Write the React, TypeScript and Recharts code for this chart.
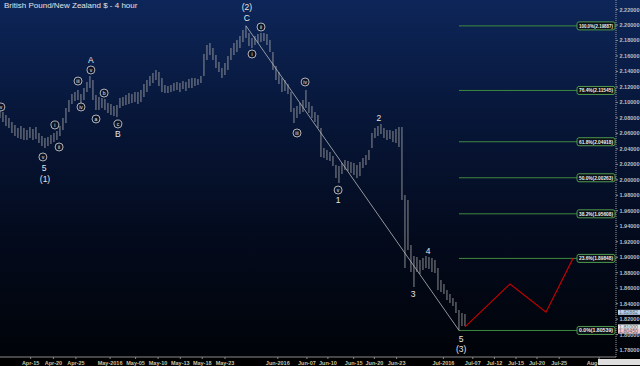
import React from 'react';
import { ComposedChart, Bar, Line, Scatter, XAxis, YAxis, ReferenceLine, ReferenceDot } from 'recharts';

// 4h bars, one entry every ~2.4 bars (high / low)
const highs = [
  2.0928, 2.0876, 2.0837, 2.0798, 2.0747, 2.0708, 2.0669, 2.0695, 2.0669, 2.0643,
  2.0682, 2.0656, 2.0682, 2.0605, 2.0566, 2.0540, 2.0553, 2.0579, 2.0605, 2.0630,
  2.0695, 2.0798, 2.0928, 2.1031, 2.1108, 2.1134, 2.1160, 2.1108, 2.1186, 2.1264,
  2.1341, 2.1289, 2.1096, 2.1070, 2.1057, 2.1044, 2.0992, 2.0979, 2.0954, 2.0966,
  2.1057, 2.1070, 2.1096, 2.1121, 2.1108, 2.1134, 2.1134, 2.1160, 2.1238, 2.1289,
  2.1341, 2.1380, 2.1419, 2.1393, 2.1315, 2.1225, 2.1212, 2.1225, 2.1251, 2.1264,
  2.1251, 2.1276, 2.1264, 2.1302, 2.1315, 2.1315, 2.1302, 2.1341, 2.1625, 2.1742,
  2.1767, 2.1703, 2.1612, 2.1522, 2.1444, 2.1509, 2.1599, 2.1703, 2.1767, 2.1806,
  2.1858, 2.1935, 2.1989, 2.1897, 2.1832, 2.1858, 2.1884, 2.1897, 2.1897, 2.1884,
  2.1806, 2.1651, 2.1470, 2.1393, 2.1315, 2.1289, 2.1238, 2.1134, 2.0928, 2.0954,
  2.0992, 2.1031, 2.1160, 2.1005, 2.0954, 2.0876, 2.0837, 2.0669, 2.0411, 2.0385,
  2.0359, 2.0307, 2.0191, 2.0178, 2.0217, 2.0256, 2.0243, 2.0230, 2.0217, 2.0191,
  2.0230, 2.0282, 2.0320, 2.0385, 2.0605, 2.0669, 2.0695, 2.0721, 2.0669, 2.0643,
  2.0643, 2.0630, 2.0656, 2.0682, 2.0682, 1.9804, 1.9739, 1.9158, 1.9016, 1.9003,
  1.8964, 1.8990, 1.9016, 1.9003, 1.8990, 1.8964, 1.8860, 1.8705, 1.8654, 1.8576,
  1.8525, 1.8473, 1.8421, 1.8318, 1.8279, 1.8266,
];
const lows = [
  2.0798, 2.0747, 2.0695, 2.0669, 2.0605, 2.0566, 2.0540, 2.0527, 2.0514, 2.0514,
  2.0540, 2.0514, 2.0527, 2.0475, 2.0437, 2.0411, 2.0437, 2.0462, 2.0488, 2.0514,
  2.0566, 2.0643, 2.0734, 2.0876, 2.0979, 2.1018, 2.1031, 2.0979, 2.1031, 2.1134,
  2.1186, 2.1031, 2.0902, 2.0902, 2.0928, 2.0902, 2.0863, 2.0837, 2.0824, 2.0811,
  2.0928, 2.0954, 2.0966, 2.0979, 2.0992, 2.1005, 2.0979, 2.1005, 2.1070, 2.1134,
  2.1212, 2.1251, 2.1289, 2.1212, 2.1134, 2.1121, 2.1121, 2.1134, 2.1147, 2.1160,
  2.1134, 2.1173, 2.1147, 2.1186, 2.1186, 2.1212, 2.1225, 2.1251, 2.1341, 2.1548,
  2.1612, 2.1548, 2.1444, 2.1393, 2.1315, 2.1354, 2.1419, 2.1548, 2.1612, 2.1651,
  2.1703, 2.1780, 2.1832, 2.1729, 2.1703, 2.1742, 2.1767, 2.1780, 2.1793, 2.1742,
  2.1651, 2.1419, 2.1289, 2.1238, 2.1134, 2.1147, 2.1108, 2.0876, 2.0734, 2.0798,
  2.0850, 2.0876, 2.0928, 2.0863, 2.0798, 2.0747, 2.0669, 2.0295, 2.0282, 2.0256,
  2.0243, 2.0178, 2.0023, 1.9959, 2.0075, 2.0127, 2.0114, 2.0088, 2.0062, 2.0023,
  2.0049, 2.0152, 2.0191, 2.0256, 2.0411, 2.0540, 2.0566, 2.0592, 2.0540, 2.0514,
  2.0527, 2.0488, 2.0475, 2.0424, 1.9739, 1.8860, 1.9093, 1.8809, 1.8615, 1.8809,
  1.8783, 1.8835, 1.8860, 1.8847, 1.8809, 1.8796, 1.8576, 1.8550, 1.8525, 1.8447,
  1.8408, 1.8370, 1.8279, 1.8054, 1.8111, 1.8111,
];

// red projected path after wave (3)
const projIdx = [155, 170, 182, 191];
const projPrice = [1.8100, 1.8655, 1.8290, 1.8985];

const fibPct = ['100.0%', '76.4%', '61.8%', '50.0%', '38.2%', '23.6%', '0.0%'];
const fibPrice = [2.19887, 2.11545, 2.04918, 2.00263, 1.95608, 1.89848, 1.80539];

const xTickPos = [10.2, 17.8, 25.3, 36.7, 45.2, 52.7, 60.1, 67.4, 75, 92.6, 102.3, 109.3, 117.9, 124.8, 132.2, 147.8, 157.6, 164.8, 172, 179, 186.4, 199.7];
const xTickLabel = ['Apr-15', 'Apr-20', 'Apr-25', 'May-2016', 'May-05', 'May-10', 'May-13', 'May-18', 'May-23', 'Jun-2016', 'Jun-07', 'Jun-10', 'Jun-15', 'Jun-20', 'Jun-23', 'Jul-2016', 'Jul-07', 'Jul-12', 'Jul-15', 'Jul-20', 'Jul-25', 'Aug-2016'];

const yTicks = [1.78, 1.8, 1.82, 1.84, 1.86, 1.88, 1.9, 1.92, 1.94, 1.96, 1.98, 2.0, 2.02, 2.04, 2.06, 2.08, 2.1, 2.12, 2.14, 2.16, 2.18, 2.2, 2.22];

// right-hand price flags
const flagPrice = [1.82882, 1.81, 1.8045];
const flagFill = ['#bcd6ee', '#e6e6e6', '#f2c4cc'];

// Elliott wave marks
const circled = [
  { i: 0.3, p: 2.0941, t: 'v' },
  { i: 14.3, p: 2.0295, t: 'v' },
  { i: 18.3, p: 2.0708, t: 'i' },
  { i: 19.7, p: 2.0424, t: 'ii' },
  { i: 26, p: 2.1276, t: 'iii' },
  { i: 27, p: 2.0941, t: 'iv' },
  { i: 30.3, p: 2.1419, t: 'v' },
  { i: 32, p: 2.0786, t: 'a' },
  { i: 34.7, p: 2.1121, t: 'b' },
  { i: 39.3, p: 2.0721, t: 'c' },
  { i: 84, p: 2.1625, t: 'i' },
  { i: 87, p: 2.1974, t: 'ii' },
  { i: 99, p: 2.0605, t: 'iii' },
  { i: 101.7, p: 2.1264, t: 'iv' },
  { i: 112.7, p: 1.9868, t: 'v' },
];
const plain = [
  { i: 14.7, p: 2.0152, t: '5' },
  { i: 15, p: 2.001, t: '(1)' },
  { i: 30.3, p: 2.1548, t: 'A' },
  { i: 39.3, p: 2.0592, t: 'B' },
  { i: 82.3, p: 2.2233, t: '(2)' },
  { i: 82.3, p: 2.209, t: 'C' },
  { i: 112.7, p: 1.9739, t: '1' },
  { i: 126.3, p: 2.0798, t: '2' },
  { i: 137.7, p: 1.8525, t: '3' },
  { i: 142.7, p: 1.908, t: '4' },
  { i: 153.7, p: 1.7943, t: '5' },
  { i: 153.7, p: 1.7814, t: '(3)' },
];

const FONT = '"Liberation Sans", Arial, sans-serif';
const X_MAX = 205.33;
const Y_DOMAIN = [1.7711, 2.2323];

const data = Array.from({ length: 192 }, (_, i) => {
  const k = projIdx.indexOf(i);
  return {
    i,
    range: i < highs.length ? [lows[i], highs[i]] : undefined,
    proj: k >= 0 ? projPrice[k] : undefined,
  };
});

const XTick = (props: any) => {
  const { x, y, payload } = props;
  const label = xTickLabel[xTickPos.indexOf(payload.value)];
  return (
    <text x={x} y={y + 4} textAnchor="middle" fontSize={5.5} fontWeight="bold" fill="#c9c3a2" fontFamily={FONT}>
      {label}
    </text>
  );
};

const YTick = (props: any) => {
  const { y, payload } = props;
  return (
    <text x={639.5} y={y + 2} textAnchor="end" fontSize={5.8} fontWeight="bold" fill="#b9bdc2" fontFamily={FONT}
      textLength={20} lengthAdjust="spacingAndGlyphs">
      {payload.value.toFixed(5)}
    </text>
  );
};

const FibTag = (text: string) => (props: any) => {
  const vb = props.viewBox;
  const x = vb.x + vb.width - 39;
  const y = vb.y;
  return (
    <g>
      <rect x={x} y={y - 4} width={38} height={8} rx={2} fill="#0b1016" stroke="#4f9a4f" strokeWidth={1} />
      <text x={x + 19} y={y + 2} textAnchor="middle" fontSize={5} fontWeight="bold" fill="#f0f0f0" fontFamily={FONT}
        textLength={34} lengthAdjust="spacingAndGlyphs">
        {text}
      </text>
    </g>
  );
};

const CircledMark = (props: any) => {
  const { cx, cy, payload } = props;
  return (
    <g>
      <circle cx={cx} cy={cy} r={4} fill="#0a1224" stroke="#dcdcdc" strokeWidth={0.8} />
      <text x={cx} y={cy + 1.7} textAnchor="middle" fontSize={5} fill="#eeeeee" fontFamily={FONT}>{payload.t}</text>
    </g>
  );
};

const PlainMark = (props: any) => {
  const { cx, cy, payload } = props;
  return (
    <text x={cx} y={cy + 3} textAnchor="middle" fontSize={8.5} fill="#e6e6e6" fontFamily={FONT}>{payload.t}</text>
  );
};

const Flag = (fill: string, value: number) => (props: any) => {
  const { cx, cy } = props;
  return (
    <g>
      <rect x={cx + 2} y={cy - 2.5} width={22} height={5} fill={fill} />
      <text x={cx + 3} y={cy + 1.8} fontSize={4.5} fill="#5a6470" fontFamily={FONT}
        textLength={19} lengthAdjust="spacingAndGlyphs">{value.toFixed(5)}</text>
    </g>
  );
};

const App = () => {
  return (
    <div style={{
      position: 'absolute', left: 0, top: 0, width: 640, height: 366,
      background: 'linear-gradient(to bottom, #0d2659 0px, #071638 120px, #030a1c 240px, #000308 357px, #000 357px, #000 366px)',
    }}>
      <div style={{ position: 'absolute', left: 4, top: 1, fontFamily: FONT, fontSize: 8, color: '#e2e2e2', zIndex: 2 }}>
        British Pound/New Zealand $ - 4 hour
      </div>
      <ComposedChart width={640} height={366} data={data} margin={{ top: 0, right: 0, bottom: 0, left: 0 }}>
        <XAxis dataKey="i" type="number" domain={[0, X_MAX]} ticks={xTickPos} interval={0} allowDataOverflow
          height={9} tick={<XTick />} tickSize={2} tickLine={{ stroke: '#8a8a8a' }} axisLine={{ stroke: '#8a8a8a' }} />
        <YAxis orientation="right" type="number" domain={Y_DOMAIN} ticks={yTicks} interval={0} allowDataOverflow
          width={24} tick={<YTick />} tickSize={2} tickLine={{ stroke: '#8a8a8a' }}
          axisLine={{ stroke: '#9a9a9a', strokeDasharray: '1 1' }} />
        {fibPrice.map((p, k) => (
          <ReferenceLine key={k} segment={[{ x: 153, y: p }, { x: X_MAX, y: p }]} stroke="#3f8a3f" strokeWidth={1}
            ifOverflow="visible" label={FibTag(`${fibPct[k]}(${p.toFixed(5)})`)} />
        ))}
        <ReferenceLine segment={[{ x: 82, y: highs[82] }, { x: 153, y: lows[153] }]} stroke="#b9b9b9" strokeWidth={0.8} />
        <Bar dataKey="range" barSize={3} fill="#a9a9a9" isAnimationActive={false} />
        <Line dataKey="proj" stroke="#c40000" strokeWidth={1.2} dot={false} connectNulls isAnimationActive={false} />
        <Scatter data={circled} dataKey="p" shape={<CircledMark />} isAnimationActive={false} />
        <Scatter data={plain} dataKey="p" shape={<PlainMark />} isAnimationActive={false} />
        {flagPrice.map((p, k) => (
          <ReferenceDot key={k} x={X_MAX} y={p} r={0} ifOverflow="visible" shape={Flag(flagFill[k], p)} />
        ))}
      </ComposedChart>
      <div style={{ position: 'absolute', left: 598, top: 359, width: 42, height: 6, background: '#dedede' }} />
    </div>
  );
};

export default App;
